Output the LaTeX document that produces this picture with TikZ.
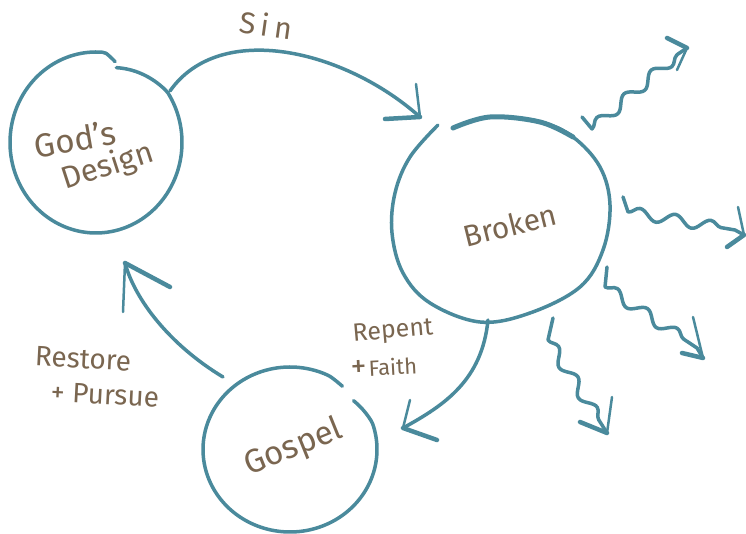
\documentclass[tikz,border=0pt]{standalone}
\usepackage{fontspec}
\setmainfont{Fira Sans}
\usetikzlibrary{shapes.geometric,calc,decorations.pathmorphing}
\definecolor{inkteal}{HTML}{4A8A9C}
\definecolor{inkbrown}{HTML}{7A6650}
\begin{document}
\begin{tikzpicture}[x=1pt,y=1pt,
  ring/.style={draw=none, ellipse, inner sep=0pt},
  stroke/.style={draw=inkteal, line width=3.5pt, line cap=round, line join=round},
  thinbarb/.style={stroke, line width=2.5pt},
  thickbarb/.style={stroke, line width=4.5pt},
  wavy/.style={decoration={snake, amplitude=5.5pt, segment length=36pt}},
  hand/.style={text=inkbrown, inner sep=0pt},
  fsz/.style={font=\fontsize{#1}{#1}\selectfont}]
\useasboundingbox (0,0) rectangle (746,534);
\fill[white] (0,0) rectangle (746,534);

% nodes (regions)
\node[ring, minimum width=172pt, minimum height=181pt] (god) at (96,391.5) {};
\node[ring, minimum width=218pt, minimum height=205pt] (broken) at (501,314) {};
\node[ring, minimum width=174pt, minimum height=165pt] (gospel) at (290,84.5) {};

% outlines
\draw[stroke] plot[domain=74:-284, samples=150, smooth, variable=\t]
  ({96+86*(1-0.14*max(0,1-(74-\t)/40)-0.08*max(0,1-(\t+284)/8))*cos(\t)},
   {391.5+90.5*(1-0.14*max(0,1-(74-\t)/40)-0.08*max(0,1-(\t+284)/8))*sin(\t)});
\draw[stroke] plot[smooth, tension=0.6] coordinates {(453,406) (490,417) (540,412) (573,397) (600,367) (610,329) (603,284) (580,247) (530,221) (480,212) (430,231) (403,261) (392,301) (395,341) (410,377) (438,409)};
\draw[stroke, line width=5pt] plot[smooth, tension=0.6] coordinates {(453,406) (490,417) (540,412) (573,397)};
\draw[stroke] plot[domain=39:-307, samples=150, smooth, variable=\t]
  ({290+87*(1-0.06*max(0,1-(39-\t)/20))*cos(\t)},
   {84.5+82.5*(1-0.06*max(0,1-(39-\t)/20)-0.04*max(0,1-(\t+307)/10))*sin(\t)});

% coordinates for arrow ends
\coordinate (sinS) at ([shift={(74,51.5)}]god.center);
\coordinate (sinTip) at ([shift={(-81,103)}]broken.center);
\coordinate (resS) at ([shift={(-67,72.5)}]gospel.center);
\coordinate (resTip) at ([shift={(29,-120.5)}]god.center);
\coordinate (repS) at ([shift={(-13,-100)}]broken.center);
\coordinate (repTip) at ([shift={(113,21.5)}]gospel.center);

% Sin
\draw[stroke] (sinS) .. controls (220,514) and (345,484) .. (sinTip);
\draw[thickbarb] (sinTip) -- ++(-35,-2);
\draw[thinbarb] (sinTip) -- ++(-4,33);
% Restore
\draw[stroke] (resS) .. controls (170,189) and (135,234) .. (resTip);
\draw[thinbarb] (resTip) -- ++(-2,-49);
\draw[thickbarb] (resTip) -- ++(45,-24);
% Repent
\draw[stroke] (repS) .. controls (482,154) and (445,129) .. (repTip);
\draw[thinbarb] (repTip) -- ++(7,28);
\draw[thickbarb] (repTip) -- ++(34,-12);

% wavy arrows
\coordinate (w1s) at ([shift={(81,103)}]broken.center);
\coordinate (w1t) at (687,486);
\draw[stroke] (w1s) -- (592,405) decorate[wavy] {-- (678,480)} -- (w1t);
\draw[thickbarb] (w1t) -- (667,496);
\draw[thinbarb] (w1t) -- (677,464);

\coordinate (w2s) at ([shift={(122,23)}]broken.center);
\coordinate (w2t) at (744,299);
\draw[stroke] (w2s) -- (628,322) decorate[wavy] {-- (735,304)} -- (w2t);
\draw[thinbarb] (w2t) -- (738,327);
\draw[thickbarb] (w2t) -- (727,287);

\coordinate (w3s) at ([shift={(106,-47)}]broken.center);
\coordinate (w3t) at (703,176);
\draw[stroke] (w3s) -- (605,247) decorate[wavy] {-- (697,186)} -- (w3t);
\draw[thinbarb] (w3t) -- (693,217);
\draw[thickbarb] (w3t) -- (682,181);

\coordinate (w4s) at ([shift={(52,-98)}]broken.center);
\coordinate (w4t) at (607,101);
\draw[stroke] (w4s) -- (548,194) decorate[wavy] {-- (602,109)} -- (w4t);
\draw[thinbarb] (w4t) -- (612,137);
\draw[thickbarb] (w4t) -- (580,112);

% texts
\node[hand, fsz=30, rotate=-8] (sinT) at (266,509) {\addfontfeature{LetterSpace=18}Sin};
\node[hand, fsz=33, rotate=10] (godT1) at (75,395) {God's};
\node[hand, fsz=31, rotate=18] (godT2) at (108,367) {Design};
\node[hand, fsz=30, rotate=14] (brokenT) at (510,309) {Broken};
\node[hand, fsz=33, rotate=22] (gospelT) at (294,86) {Gospel};
\node[hand, fsz=28, rotate=-3] (restoreT1) at (83,175) {Restore};
\node[hand, fsz=28, rotate=-3] (restoreT2) at (105,139) {+ Pursue};
\node[hand, fsz=25, rotate=5] (repentT1) at (393,202) {Repent};
\node[hand, rotate=3] (repentT2) at (384,167) {{\fontsize{32}{32}\selectfont +}\,{\fontsize{22}{22}\selectfont Faith}};
\end{tikzpicture}
\end{document}
